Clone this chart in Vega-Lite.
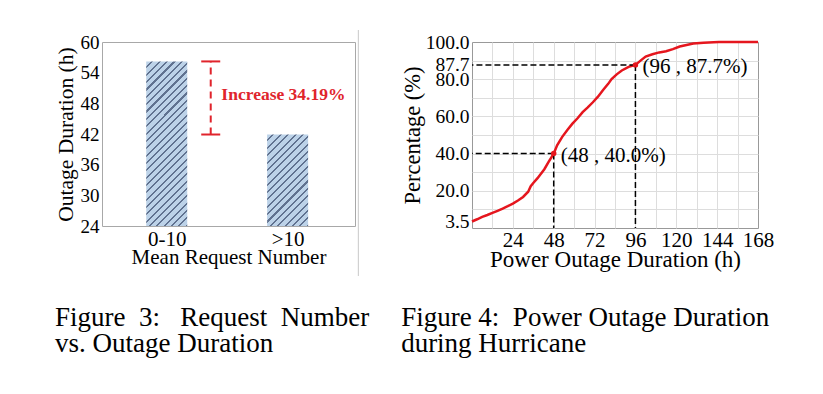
{
  "$schema": "https://vega.github.io/schema/vega-lite/v6.json",
  "background": "white",
  "padding": {"left": 54, "top": 28, "right": 10, "bottom": 10},
  "bounds": "flush",
  "spacing": 117,
  "config": {
    "font": "Liberation Serif",
    "axis": {"labelFont": "Liberation Serif", "titleFont": "Liberation Serif", "labelColor": "#000", "titleColor": "#000", "titleFontWeight": "normal", "ticks": false, "domain": false, "grid": false, "labelPadding": 3, "labelOverlap": false, "labelFlush": false},
    "title": {"font": "Liberation Serif", "fontWeight": "normal", "fontSize": 27, "color": "#000", "lineHeight": 26}
  },
  "datasets": {
    "bars": [
      {"group": "0-10", "order": 1, "duration": 56.2},
      {"group": ">10", "order": 2, "duration": 41.9}
    ],
    "curve": [
      {"hours": 0, "pct": 3.5}, {"hours": 3, "pct": 4.7}, {"hours": 6, "pct": 6.0}, {"hours": 9, "pct": 7.0},
      {"hours": 12, "pct": 8.1}, {"hours": 15, "pct": 9.2}, {"hours": 18, "pct": 10.4}, {"hours": 21, "pct": 11.7},
      {"hours": 24, "pct": 13.1}, {"hours": 27, "pct": 14.8}, {"hours": 30, "pct": 16.7}, {"hours": 33, "pct": 19.5},
      {"hours": 34.5, "pct": 22.5}, {"hours": 36, "pct": 24.2}, {"hours": 38.5, "pct": 26.8}, {"hours": 40.5, "pct": 29.2},
      {"hours": 42.5, "pct": 31.6}, {"hours": 45, "pct": 35.5}, {"hours": 48, "pct": 40.0}, {"hours": 50, "pct": 44.5},
      {"hours": 53, "pct": 49.0}, {"hours": 56, "pct": 52.7}, {"hours": 59, "pct": 56.1}, {"hours": 62, "pct": 59.0},
      {"hours": 65, "pct": 62.3}, {"hours": 68, "pct": 64.8}, {"hours": 71, "pct": 67.6}, {"hours": 74, "pct": 70.6},
      {"hours": 77, "pct": 74.2}, {"hours": 80, "pct": 77.5}, {"hours": 82, "pct": 80.1}, {"hours": 85, "pct": 82.6},
      {"hours": 88, "pct": 84.7}, {"hours": 92, "pct": 86.6}, {"hours": 96, "pct": 87.7}, {"hours": 99, "pct": 90.0},
      {"hours": 102, "pct": 92.2}, {"hours": 106, "pct": 93.4}, {"hours": 110, "pct": 94.4}, {"hours": 114, "pct": 95.0},
      {"hours": 118, "pct": 96.2}, {"hours": 122, "pct": 97.6}, {"hours": 126, "pct": 98.4}, {"hours": 130, "pct": 99.2},
      {"hours": 136, "pct": 99.6}, {"hours": 145, "pct": 100}, {"hours": 168, "pct": 100}
    ],
    "marks": [
      {"hours": 48, "pct": 40.0, "label": "(48 , 40.0%)"},
      {"hours": 96, "pct": 87.7, "label": "(96 , 87.7%)"}
    ]
  },
  "hconcat": [
    {
      "width": 253,
      "height": 184,
      "view": {"stroke": "#a8a8a8", "strokeWidth": 1},
      "title": {"text": ["Figure\u00a0 3:\u00a0\u00a0 Request\u00a0 Number", "vs. Outage Duration"], "orient": "bottom", "anchor": "start", "frame": "bounds", "offset": 29},
      "layer": [
        {
          "data": {"name": "bars"},
          "transform": [{"filter": "datum.group == '0-10'"}],
          "mark": {"type": "bar", "size": 41, "stroke": null, "fill": {"gradient": "linear", "x1": 0, "y1": 0, "x2": 0.293, "y2": 1.176, "stops": [
            {"offset": 0, "color": "#bcd2e8"}, {"offset": 0.02571, "color": "#bcd2e8"}, {"offset": 0.02571, "color": "#607290"}, {"offset": 0.03571, "color": "#607290"},
            {"offset": 0.03571, "color": "#bcd2e8"}, {"offset": 0.06143, "color": "#bcd2e8"}, {"offset": 0.06143, "color": "#607290"}, {"offset": 0.07143, "color": "#607290"},
            {"offset": 0.07143, "color": "#bcd2e8"}, {"offset": 0.09714, "color": "#bcd2e8"}, {"offset": 0.09714, "color": "#607290"}, {"offset": 0.10714, "color": "#607290"},
            {"offset": 0.10714, "color": "#bcd2e8"}, {"offset": 0.13286, "color": "#bcd2e8"}, {"offset": 0.13286, "color": "#607290"}, {"offset": 0.14286, "color": "#607290"},
            {"offset": 0.14286, "color": "#bcd2e8"}, {"offset": 0.16857, "color": "#bcd2e8"}, {"offset": 0.16857, "color": "#607290"}, {"offset": 0.17857, "color": "#607290"},
            {"offset": 0.17857, "color": "#bcd2e8"}, {"offset": 0.20429, "color": "#bcd2e8"}, {"offset": 0.20429, "color": "#607290"}, {"offset": 0.21429, "color": "#607290"},
            {"offset": 0.21429, "color": "#bcd2e8"}, {"offset": 0.24, "color": "#bcd2e8"}, {"offset": 0.24, "color": "#607290"}, {"offset": 0.25, "color": "#607290"},
            {"offset": 0.25, "color": "#bcd2e8"}, {"offset": 0.27571, "color": "#bcd2e8"}, {"offset": 0.27571, "color": "#607290"}, {"offset": 0.28571, "color": "#607290"},
            {"offset": 0.28571, "color": "#bcd2e8"}, {"offset": 0.31143, "color": "#bcd2e8"}, {"offset": 0.31143, "color": "#607290"}, {"offset": 0.32143, "color": "#607290"},
            {"offset": 0.32143, "color": "#bcd2e8"}, {"offset": 0.34714, "color": "#bcd2e8"}, {"offset": 0.34714, "color": "#607290"}, {"offset": 0.35714, "color": "#607290"},
            {"offset": 0.35714, "color": "#bcd2e8"}, {"offset": 0.38286, "color": "#bcd2e8"}, {"offset": 0.38286, "color": "#607290"}, {"offset": 0.39286, "color": "#607290"},
            {"offset": 0.39286, "color": "#bcd2e8"}, {"offset": 0.41857, "color": "#bcd2e8"}, {"offset": 0.41857, "color": "#607290"}, {"offset": 0.42857, "color": "#607290"},
            {"offset": 0.42857, "color": "#bcd2e8"}, {"offset": 0.45429, "color": "#bcd2e8"}, {"offset": 0.45429, "color": "#607290"}, {"offset": 0.46429, "color": "#607290"},
            {"offset": 0.46429, "color": "#bcd2e8"}, {"offset": 0.49, "color": "#bcd2e8"}, {"offset": 0.49, "color": "#607290"}, {"offset": 0.5, "color": "#607290"},
            {"offset": 0.5, "color": "#bcd2e8"}, {"offset": 0.52571, "color": "#bcd2e8"}, {"offset": 0.52571, "color": "#607290"}, {"offset": 0.53571, "color": "#607290"},
            {"offset": 0.53571, "color": "#bcd2e8"}, {"offset": 0.56143, "color": "#bcd2e8"}, {"offset": 0.56143, "color": "#607290"}, {"offset": 0.57143, "color": "#607290"},
            {"offset": 0.57143, "color": "#bcd2e8"}, {"offset": 0.59714, "color": "#bcd2e8"}, {"offset": 0.59714, "color": "#607290"}, {"offset": 0.60714, "color": "#607290"},
            {"offset": 0.60714, "color": "#bcd2e8"}, {"offset": 0.63286, "color": "#bcd2e8"}, {"offset": 0.63286, "color": "#607290"}, {"offset": 0.64286, "color": "#607290"},
            {"offset": 0.64286, "color": "#bcd2e8"}, {"offset": 0.66857, "color": "#bcd2e8"}, {"offset": 0.66857, "color": "#607290"}, {"offset": 0.67857, "color": "#607290"},
            {"offset": 0.67857, "color": "#bcd2e8"}, {"offset": 0.70429, "color": "#bcd2e8"}, {"offset": 0.70429, "color": "#607290"}, {"offset": 0.71429, "color": "#607290"},
            {"offset": 0.71429, "color": "#bcd2e8"}, {"offset": 0.74, "color": "#bcd2e8"}, {"offset": 0.74, "color": "#607290"}, {"offset": 0.75, "color": "#607290"},
            {"offset": 0.75, "color": "#bcd2e8"}, {"offset": 0.77571, "color": "#bcd2e8"}, {"offset": 0.77571, "color": "#607290"}, {"offset": 0.78571, "color": "#607290"},
            {"offset": 0.78571, "color": "#bcd2e8"}, {"offset": 0.81143, "color": "#bcd2e8"}, {"offset": 0.81143, "color": "#607290"}, {"offset": 0.82143, "color": "#607290"},
            {"offset": 0.82143, "color": "#bcd2e8"}, {"offset": 0.84714, "color": "#bcd2e8"}, {"offset": 0.84714, "color": "#607290"}, {"offset": 0.85714, "color": "#607290"},
            {"offset": 0.85714, "color": "#bcd2e8"}, {"offset": 0.88286, "color": "#bcd2e8"}, {"offset": 0.88286, "color": "#607290"}, {"offset": 0.89286, "color": "#607290"},
            {"offset": 0.89286, "color": "#bcd2e8"}, {"offset": 0.91857, "color": "#bcd2e8"}, {"offset": 0.91857, "color": "#607290"}, {"offset": 0.92857, "color": "#607290"},
            {"offset": 0.92857, "color": "#bcd2e8"}, {"offset": 0.95429, "color": "#bcd2e8"}, {"offset": 0.95429, "color": "#607290"}, {"offset": 0.96429, "color": "#607290"},
            {"offset": 0.96429, "color": "#bcd2e8"}, {"offset": 0.99, "color": "#bcd2e8"}, {"offset": 0.99, "color": "#607290"}, {"offset": 1, "color": "#607290"}
          ]}},
          "encoding": {
            "x": {"field": "order", "type": "quantitative", "scale": {"domain": [0.506, 2.516], "nice": false, "zero": false},
                  "axis": {"values": [1, 2], "labelExpr": "datum.value == 1 ? '0-10' : '>10'", "title": "Mean Request Number", "labelFontSize": 21, "titleFontSize": 21, "labelPadding": 2, "titlePadding": -3}},
            "y": {"field": "duration", "type": "quantitative", "scale": {"domain": [24, 60], "nice": false, "zero": false},
                  "axis": {"values": [24, 30, 36, 42, 48, 54, 60], "title": "Outage Duration (h)", "labelFontSize": 19, "titleFontSize": 21.5, "titlePadding": 3}},
            "y2": {"datum": 24}
          }
        },
        {
          "data": {"name": "bars"},
          "transform": [{"filter": "datum.group == '>10'"}],
          "mark": {"type": "bar", "size": 41, "stroke": null, "fill": {"gradient": "linear", "x1": 0, "y1": 0, "x2": 0.541, "y2": 1.2067, "stops": [
            {"offset": 0, "color": "#bcd2e8"}, {"offset": 0.04, "color": "#bcd2e8"}, {"offset": 0.04, "color": "#607290"}, {"offset": 0.05556, "color": "#607290"},
            {"offset": 0.05556, "color": "#bcd2e8"}, {"offset": 0.09556, "color": "#bcd2e8"}, {"offset": 0.09556, "color": "#607290"}, {"offset": 0.11111, "color": "#607290"},
            {"offset": 0.11111, "color": "#bcd2e8"}, {"offset": 0.15111, "color": "#bcd2e8"}, {"offset": 0.15111, "color": "#607290"}, {"offset": 0.16667, "color": "#607290"},
            {"offset": 0.16667, "color": "#bcd2e8"}, {"offset": 0.20667, "color": "#bcd2e8"}, {"offset": 0.20667, "color": "#607290"}, {"offset": 0.22222, "color": "#607290"},
            {"offset": 0.22222, "color": "#bcd2e8"}, {"offset": 0.26222, "color": "#bcd2e8"}, {"offset": 0.26222, "color": "#607290"}, {"offset": 0.27778, "color": "#607290"},
            {"offset": 0.27778, "color": "#bcd2e8"}, {"offset": 0.31778, "color": "#bcd2e8"}, {"offset": 0.31778, "color": "#607290"}, {"offset": 0.33333, "color": "#607290"},
            {"offset": 0.33333, "color": "#bcd2e8"}, {"offset": 0.37333, "color": "#bcd2e8"}, {"offset": 0.37333, "color": "#607290"}, {"offset": 0.38889, "color": "#607290"},
            {"offset": 0.38889, "color": "#bcd2e8"}, {"offset": 0.42889, "color": "#bcd2e8"}, {"offset": 0.42889, "color": "#607290"}, {"offset": 0.44444, "color": "#607290"},
            {"offset": 0.44444, "color": "#bcd2e8"}, {"offset": 0.48444, "color": "#bcd2e8"}, {"offset": 0.48444, "color": "#607290"}, {"offset": 0.5, "color": "#607290"},
            {"offset": 0.5, "color": "#bcd2e8"}, {"offset": 0.54, "color": "#bcd2e8"}, {"offset": 0.54, "color": "#607290"}, {"offset": 0.55556, "color": "#607290"},
            {"offset": 0.55556, "color": "#bcd2e8"}, {"offset": 0.59556, "color": "#bcd2e8"}, {"offset": 0.59556, "color": "#607290"}, {"offset": 0.61111, "color": "#607290"},
            {"offset": 0.61111, "color": "#bcd2e8"}, {"offset": 0.65111, "color": "#bcd2e8"}, {"offset": 0.65111, "color": "#607290"}, {"offset": 0.66667, "color": "#607290"},
            {"offset": 0.66667, "color": "#bcd2e8"}, {"offset": 0.70667, "color": "#bcd2e8"}, {"offset": 0.70667, "color": "#607290"}, {"offset": 0.72222, "color": "#607290"},
            {"offset": 0.72222, "color": "#bcd2e8"}, {"offset": 0.76222, "color": "#bcd2e8"}, {"offset": 0.76222, "color": "#607290"}, {"offset": 0.77778, "color": "#607290"},
            {"offset": 0.77778, "color": "#bcd2e8"}, {"offset": 0.81778, "color": "#bcd2e8"}, {"offset": 0.81778, "color": "#607290"}, {"offset": 0.83333, "color": "#607290"},
            {"offset": 0.83333, "color": "#bcd2e8"}, {"offset": 0.87333, "color": "#bcd2e8"}, {"offset": 0.87333, "color": "#607290"}, {"offset": 0.88889, "color": "#607290"},
            {"offset": 0.88889, "color": "#bcd2e8"}, {"offset": 0.92889, "color": "#bcd2e8"}, {"offset": 0.92889, "color": "#607290"}, {"offset": 0.94444, "color": "#607290"},
            {"offset": 0.94444, "color": "#bcd2e8"}, {"offset": 0.98444, "color": "#bcd2e8"}, {"offset": 0.98444, "color": "#607290"}, {"offset": 1, "color": "#607290"}
          ]}},
          "encoding": {
            "x": {"field": "order", "type": "quantitative"},
            "y": {"field": "duration", "type": "quantitative", "axis": {"values": [24, 30, 36, 42, 48, 54, 60], "title": "Outage Duration (h)", "labelFontSize": 19, "titleFontSize": 21.5, "titlePadding": 3}},
            "y2": {"datum": 24}
          }
        },
        {
          "data": {"name": "bars"},
          "mark": {"type": "rule", "color": "#e0242c", "strokeWidth": 2, "strokeDash": [7, 5]},
          "encoding": {
            "x": {"datum": 1.364, "type": "quantitative"},
            "y": {"aggregate": "min", "field": "duration", "type": "quantitative", "axis": {"values": [24, 30, 36, 42, 48, 54, 60], "title": "Outage Duration (h)", "labelFontSize": 19, "titleFontSize": 21.5, "titlePadding": 3}},
            "y2": {"aggregate": "max", "field": "duration"}
          }
        },
        {
          "data": {"name": "bars"},
          "mark": {"type": "tick", "orient": "horizontal", "size": 19, "thickness": 2, "color": "#e0242c", "opacity": 1},
          "encoding": {
            "x": {"datum": 1.364, "type": "quantitative"},
            "y": {"field": "duration", "type": "quantitative", "axis": {"values": [24, 30, 36, 42, 48, 54, 60], "title": "Outage Duration (h)", "labelFontSize": 19, "titleFontSize": 21.5, "titlePadding": 3}}
          }
        },
        {
          "data": {"values": [{}]},
          "mark": {"type": "text", "text": "Increase 34.19%", "align": "left", "baseline": "middle", "fontWeight": "bold", "fontSize": 17.5, "color": "#e0242c", "font": "Liberation Serif"},
          "encoding": {
            "x": {"datum": 1.452, "type": "quantitative"},
            "y": {"datum": 49.6, "type": "quantitative", "axis": {"values": [24, 30, 36, 42, 48, 54, 60], "title": "Outage Duration (h)", "labelFontSize": 19, "titleFontSize": 21.5, "titlePadding": 3}}
          }
        },
        {
          "data": {"values": [{}]},
          "mark": {"type": "rule", "color": "#c8c8c8", "strokeWidth": 1, "clip": false},
          "encoding": {
            "x": {"datum": 2.585, "type": "quantitative"},
            "y": {"datum": 62.35, "type": "quantitative", "axis": {"values": [24, 30, 36, 42, 48, 54, 60], "title": "Outage Duration (h)", "labelFontSize": 19, "titleFontSize": 21.5, "titlePadding": 3}},
            "y2": {"datum": 14.22}
          }
        }
      ]
    },
    {
      "width": 286,
      "height": 186,
      "view": {"stroke": "#999999", "strokeWidth": 1},
      "title": {"text": ["Figure 4:\u00a0 Power Outage Duration", "during Hurricane"], "orient": "bottom", "anchor": "start", "frame": "bounds", "offset": 34},
      "resolve": {"axis": {"x": "independent", "y": "independent"}},
      "layer": [
        {
          "data": {"name": "curve"},
          "mark": {"type": "line", "color": "#e5161e", "strokeWidth": 2.5},
          "encoding": {
            "x": {"field": "hours", "type": "quantitative", "scale": {"domain": [0, 168], "nice": false, "zero": false},
                  "axis": {"orient": "bottom", "values": [12, 24, 36, 48, 60, 72, 84, 96, 108, 120, 132, 144, 156], "grid": true, "gridColor": "#dddddd", "labels": false, "ticks": false, "domain": false, "title": null}},
            "y": {"field": "pct", "type": "quantitative", "scale": {"domain": [0, 100], "nice": false, "zero": false},
                  "axis": {"orient": "left", "values": [10, 20, 30, 40, 50, 60, 70, 80, 90], "grid": true, "gridColor": "#dddddd", "labels": false, "ticks": false, "domain": false, "title": null}}
          }
        },
        {
          "data": {"name": "marks"},
          "mark": {"type": "rule", "color": "#000", "strokeWidth": 1.5, "strokeDash": [6, 3]},
          "encoding": {
            "x": {"field": "hours", "type": "quantitative", "axis": null},
            "x2": {"datum": 0},
            "y": {"field": "pct", "type": "quantitative", "axis": null}
          }
        },
        {
          "data": {"name": "marks"},
          "mark": {"type": "rule", "color": "#000", "strokeWidth": 1.5, "strokeDash": [6, 3]},
          "encoding": {
            "x": {"field": "hours", "type": "quantitative", "axis": null},
            "y": {"field": "pct", "type": "quantitative", "axis": null},
            "y2": {"datum": 0}
          }
        },
        {
          "data": {"name": "marks"},
          "mark": {"type": "point", "filled": true, "color": "#e5161e", "size": 30, "opacity": 1},
          "encoding": {
            "x": {"field": "hours", "type": "quantitative",
                  "axis": {"orient": "bottom", "values": [24, 48, 72, 96, 120, 144, 168], "title": "Power Outage Duration (h)", "labelFontSize": 21, "titleFontSize": 23, "labelPadding": 1, "titlePadding": -2}},
            "y": {"field": "pct", "type": "quantitative",
                  "axis": {"orient": "left", "values": [3.5, 20, 40, 60, 80, 87.7, 100], "format": ".1f", "title": "Percentage (%)", "labelFontSize": 19.5, "titleFontSize": 22.5, "titlePadding": 1}}
          }
        },
        {
          "data": {"name": "marks"},
          "mark": {"type": "text", "align": "left", "baseline": "middle", "dx": 7, "dy": 2, "fontSize": 21, "color": "#000", "font": "Liberation Serif"},
          "encoding": {
            "x": {"field": "hours", "type": "quantitative", "axis": null},
            "y": {"field": "pct", "type": "quantitative", "axis": null},
            "text": {"field": "label"}
          }
        }
      ]
    }
  ]
}
